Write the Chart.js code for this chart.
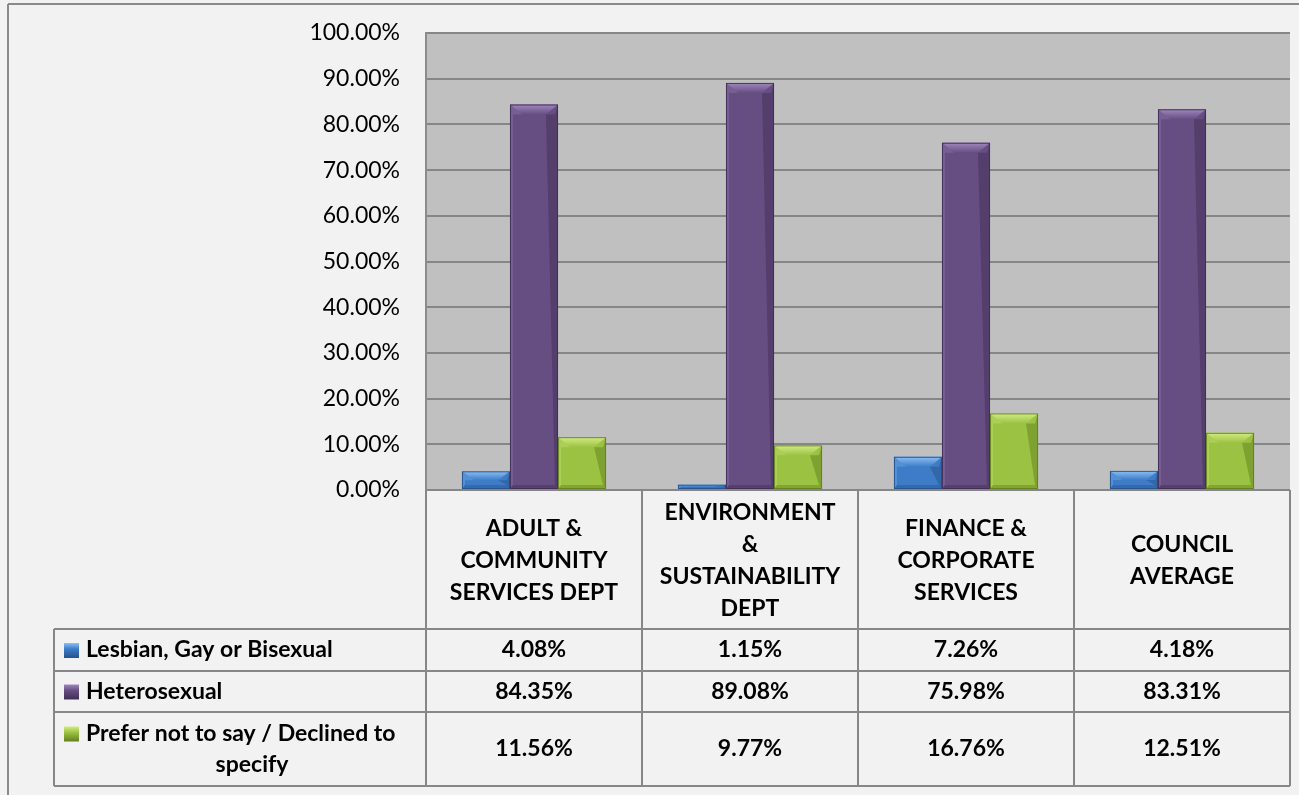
<!DOCTYPE html>
<html>
<head>
<meta charset="utf-8">
<script src="https://cdn.jsdelivr.net/npm/chart.js@4.4.1/dist/chart.umd.min.js"></script>
<style>
  html,body{margin:0;padding:0;background:#F2F2F2;}
  #wrap{width:1299px;height:795px;position:relative;}
</style>
</head>
<body>
<div id="wrap"><canvas id="c" width="1299" height="795"></canvas></div>
<script>
// ---- data ----
const categories = [
  ["ADULT &", "COMMUNITY", "SERVICES DEPT"],
  ["ENVIRONMENT", "&", "SUSTAINABILITY", "DEPT"],
  ["FINANCE &", "CORPORATE", "SERVICES"],
  ["COUNCIL", "AVERAGE"]
];
const seriesNames = ["Lesbian, Gay or Bisexual", "Heterosexual", "Prefer not to say / Declined to specify"];
const seriesLabelLines = [["Lesbian, Gay or Bisexual"], ["Heterosexual"], ["Prefer not to say / Declined to", "specify"]];
const lgbValues = [4.08, 1.15, 7.26, 4.18];
const heteroValues = [84.35, 89.08, 75.98, 83.31];
const preferNotValues = [11.56, 9.77, 16.76, 12.51];
const yTicks = [0, 10, 20, 30, 40, 50, 60, 70, 80, 90, 100];

const palette = [
  {main:'#3E7CC8', light:'#8CC0F4', dark:'#25528C'},
  {main:'#664E82', light:'#A088BE', dark:'#3F2E55'},
  {main:'#9CC244', light:'#D2EC84', dark:'#62801E'}
];
const FONT = 'Lato, "Open Sans", sans-serif';

const bgPlugin = {
  id: 'bg',
  beforeDraw(chart) {
    const ctx = chart.ctx, a = chart.chartArea;
    ctx.save();
    ctx.fillStyle = '#F2F2F2';
    ctx.fillRect(0, 0, chart.width, chart.height);
    ctx.fillStyle = '#C0C0C0';
    ctx.fillRect(a.left, a.top, a.right - a.left, a.bottom - a.top);
    ctx.restore();
  }
};

const bevelPlugin = {
  id: 'bevel',
  afterDatasetsDraw(chart) {
    const ctx = chart.ctx;
    chart.data.datasets.forEach((ds, di) => {
      const meta = chart.getDatasetMeta(di);
      const col = palette[di];
      meta.data.forEach(el => {
        const w = el.width, l = el.x - w / 2, r = el.x + w / 2;
        const t = el.y, b = el.base, h = b - t;
        if (h <= 0) return;
        const bv = Math.min(10, h / 2), inset = Math.min(12, w / 4);
        ctx.save();
        const g = ctx.createLinearGradient(0, t, 0, t + bv);
        g.addColorStop(0, col.light);
        g.addColorStop(1, col.main);
        ctx.fillStyle = g;
        ctx.beginPath();
        ctx.moveTo(l, t); ctx.lineTo(r, t);
        ctx.lineTo(r - inset, t + bv); ctx.lineTo(l + inset, t + bv);
        ctx.closePath(); ctx.fill();
        const sv = 3, bb = Math.min(4, h / 3);
        ctx.fillStyle = col.dark;
        ctx.globalAlpha = 0.5;
        ctx.beginPath();
        ctx.moveTo(r, t); ctx.lineTo(r, b); ctx.lineTo(r - sv, b - bb);
        ctx.lineTo(r - inset, t + bv); ctx.lineTo(r - sv, t + bv); ctx.closePath(); ctx.fill();
        ctx.fillStyle = col.light;
        ctx.globalAlpha = 0.3;
        ctx.beginPath();
        ctx.moveTo(l, t); ctx.lineTo(l, b); ctx.lineTo(l + sv, b - bb);
        ctx.lineTo(l + sv, t + bv); ctx.lineTo(l + inset, t + bv); ctx.closePath(); ctx.fill();
        ctx.fillStyle = col.dark;
        ctx.globalAlpha = 0.45;
        ctx.beginPath();
        ctx.moveTo(l, b); ctx.lineTo(r, b); ctx.lineTo(r - sv, b - bb); ctx.lineTo(l + sv, b - bb);
        ctx.closePath(); ctx.fill();
        ctx.globalAlpha = 0.9;
        ctx.strokeStyle = col.dark;
        ctx.lineWidth = 1;
        ctx.strokeRect(l + 0.5, t + 0.5, w - 1, h - 1);
        ctx.restore();
      });
    });
  }
};

const tablePlugin = {
  id: 'datatable',
  afterDraw(chart) {
    const ctx = chart.ctx, a = chart.chartArea, xs = chart.scales.x;
    const colW = (a.right - a.left) / categories.length;
    const rowTops = [629, 671, 712, 786];
    const labelLeft = 54;
    ctx.save();
    ctx.strokeStyle = '#8A8A8A';
    ctx.lineWidth = 2;
    ctx.beginPath();
    ctx.moveTo(8, 4); ctx.lineTo(1299, 4);
    ctx.moveTo(8, 4); ctx.lineTo(8, 795);
    ctx.stroke();
    ctx.strokeStyle = '#878787';
    ctx.lineWidth = 2;
    ctx.beginPath();
    for (let i = 0; i <= categories.length; i++) {
      const x = a.left + colW * i;
      ctx.moveTo(x, a.bottom); ctx.lineTo(x, rowTops[3]);
    }
    rowTops.forEach(y => { ctx.moveTo(labelLeft, y); ctx.lineTo(a.right, y); });
    ctx.moveTo(labelLeft, rowTops[0]); ctx.lineTo(labelLeft, rowTops[3]);
    ctx.stroke();
    ctx.fillStyle = '#000';
    ctx.textAlign = 'center';
    ctx.textBaseline = 'middle';
    ctx.font = 'bold 23px ' + FONT;
    const lh = 32;
    const hc = (a.bottom + rowTops[0]) / 2 + 1;
    categories.forEach((lines, i) => {
      const cx = xs.getPixelForValue(i);
      const y0 = hc - (lines.length - 1) * lh / 2;
      lines.forEach((ln, j) => ctx.fillText(ln, cx, y0 + j * lh));
    });
    const series = [lgbValues, heteroValues, preferNotValues];
    series.forEach((vals, si) => {
      const top = rowTops[si], bot = rowTops[si + 1];
      const cy = (top + bot) / 2;
      ctx.textAlign = 'center';
      vals.forEach((v, i) => {
        ctx.fillText(v.toFixed(2) + '%', xs.getPixelForValue(i), cy);
      });
      const lines = seriesLabelLines[si];
      const y0 = cy - (lines.length - 1) * 31 / 2;
      const sy = y0 - 7;
      const col = palette[si];
      const g = ctx.createLinearGradient(0, sy, 0, sy + 15);
      g.addColorStop(0, col.light); g.addColorStop(0.4, col.main); g.addColorStop(1, col.dark);
      ctx.fillStyle = g;
      ctx.fillRect(64, sy, 15, 15);
      ctx.fillStyle = '#000';
      ctx.textAlign = 'left';
      ctx.fillText(lines[0], 86, y0);
      if (lines.length > 1) {
        ctx.textAlign = 'center';
        for (let j = 1; j < lines.length; j++) ctx.fillText(lines[j], 252, y0 + j * 31);
      }
    });
    ctx.restore();
  }
};

new Chart(document.getElementById('c'), {
  type: 'bar',
  data: {
    labels: categories,
    datasets: [
      {label: seriesNames[0], data: lgbValues, backgroundColor: palette[0].main},
      {label: seriesNames[1], data: heteroValues, backgroundColor: palette[1].main},
      {label: seriesNames[2], data: preferNotValues, backgroundColor: palette[2].main}
    ]
  },
  options: {
    responsive: false,
    animation: false,
    devicePixelRatio: 1,
    layout: {padding: {top: 33, right: 9, bottom: 305, left: 0}},
    plugins: {legend: {display: false}, tooltip: {enabled: false}, title: {display: false}},
    datasets: {bar: {categoryPercentage: 0.667, barPercentage: 1.0, borderWidth: 0}},
    scales: {
      x: {display: false},
      y: {
        min: 0, max: 100,
        afterFit(scale) { scale.width = 426; scale.paddingTop = 0; scale.paddingBottom = 0; },
        afterBuildTicks(scale) { scale.ticks = yTicks.map(v => ({value: v})); },
        ticks: {
          padding: 26,
          color: '#000',
          font: {family: FONT, size: 23},
          callback: v => Number(v).toFixed(2) + '%'
        },
        grid: {color: '#868686', lineWidth: 2, drawTicks: false},
        border: {display: true, color: '#8C8C8C', width: 2}
      }
    }
  },
  plugins: [bgPlugin, bevelPlugin, tablePlugin]
});
</script>
</body>
</html>
